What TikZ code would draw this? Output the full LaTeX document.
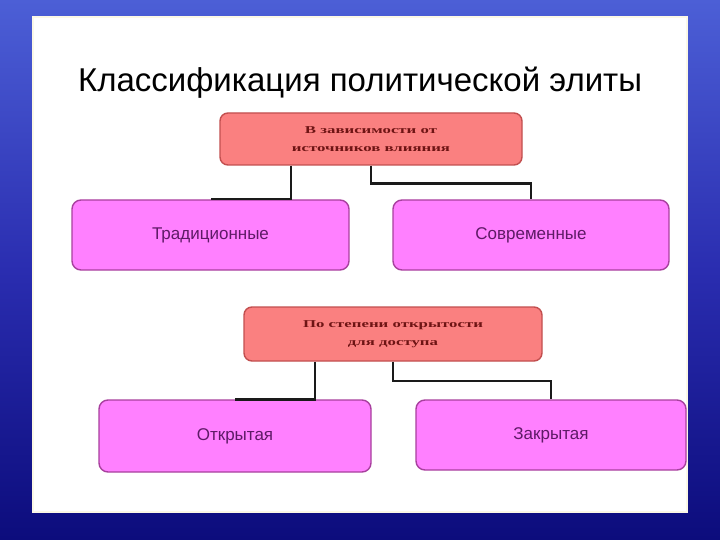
\documentclass[tikz,border=0pt]{standalone}
\usepackage{fontspec}
\setmainfont{Liberation Sans}
\newfontfamily\boxfont[FakeStretch=1.6]{Liberation Serif}
\usetikzlibrary{positioning}
\definecolor{clrbg_top}{HTML}{4C5FD6}
\definecolor{clrbg_mid}{HTML}{2A2DB0}
\definecolor{clrbg_bottom}{HTML}{0C0C7C}
\definecolor{clrpanel}{HTML}{FFFFFF}
\definecolor{clrpanel_edge}{HTML}{FBF8E6}
\definecolor{clrgroup}{HTML}{FA8080}
\definecolor{clrgroup_border}{HTML}{C24F4F}
\definecolor{clrgroup_text}{HTML}{6E1414}
\definecolor{clrleaf}{HTML}{FF80FF}
\definecolor{clrleaf_border}{HTML}{A8409E}
\definecolor{clrleaf_text}{HTML}{5E1A66}
\definecolor{clrlink}{HTML}{1A1A1A}

\begin{document}
\begin{tikzpicture}[
    x=1pt, y=-1pt,
    groupbox/.style={draw=clrgroup_border, fill=clrgroup, rounded corners=8pt,
                     line width=1.4pt, align=center, inner sep=0pt,
                     font=\boxfont\bfseries\fontsize{10.5}{18}\selectfont, text=clrgroup_text},
    leafbox/.style={draw=clrleaf_border, fill=clrleaf, rounded corners=9pt,
                    line width=1.4pt, inner sep=0pt,
                    font=\fontsize{17}{20}\selectfont, text=clrleaf_text},
    link/.style={draw=clrlink, line width=2.4pt},
    title/.style={font=\fontsize{33}{38}\selectfont, text=black},
]
% background and slide panel
\useasboundingbox (0,0) rectangle (720,540);
\shade[top color=clrbg_top, bottom color=clrbg_bottom, middle color=clrbg_mid] (0,0) rectangle (720,540);
\draw[fill=clrpanel, draw=clrpanel_edge, line width=1.5pt] (33,17) rectangle (687,512);
\node[title, anchor=base] (n_0) at (360,92) {Классификация политической элиты};
% first classification
\node[groupbox, minimum width=302pt, minimum height=52pt] (n_1) at (371,139) {В зависимости от\\источников влияния};
\node[leafbox, minimum width=277pt, minimum height=70pt] (n_2) at (210.5,235) {Традиционные};
\node[leafbox, minimum width=276pt, minimum height=70pt] (n_3) at (531,235) {Современные};
% second classification
\node[groupbox, minimum width=298pt, minimum height=54pt] (n_4) at (393,334) {По степени открытости\\для доступа};
\node[leafbox, minimum width=272pt, minimum height=72pt] (n_5) at (235,436) {Открытая};
\node[leafbox, minimum width=270pt, minimum height=70pt] (n_6) at (551,435) {Закрытая};
\draw[link] ([xshift=-80pt]n_1.south) |- (n_2.north);
\draw[link] (n_1.south) -- ++(0,18) -| (n_3.north);
\draw[link] ([xshift=-78pt]n_4.south) |- (n_5.north);
\draw[link] (n_4.south) -- ++(0,19) -| (n_6.north);
\end{tikzpicture}
\end{document}
